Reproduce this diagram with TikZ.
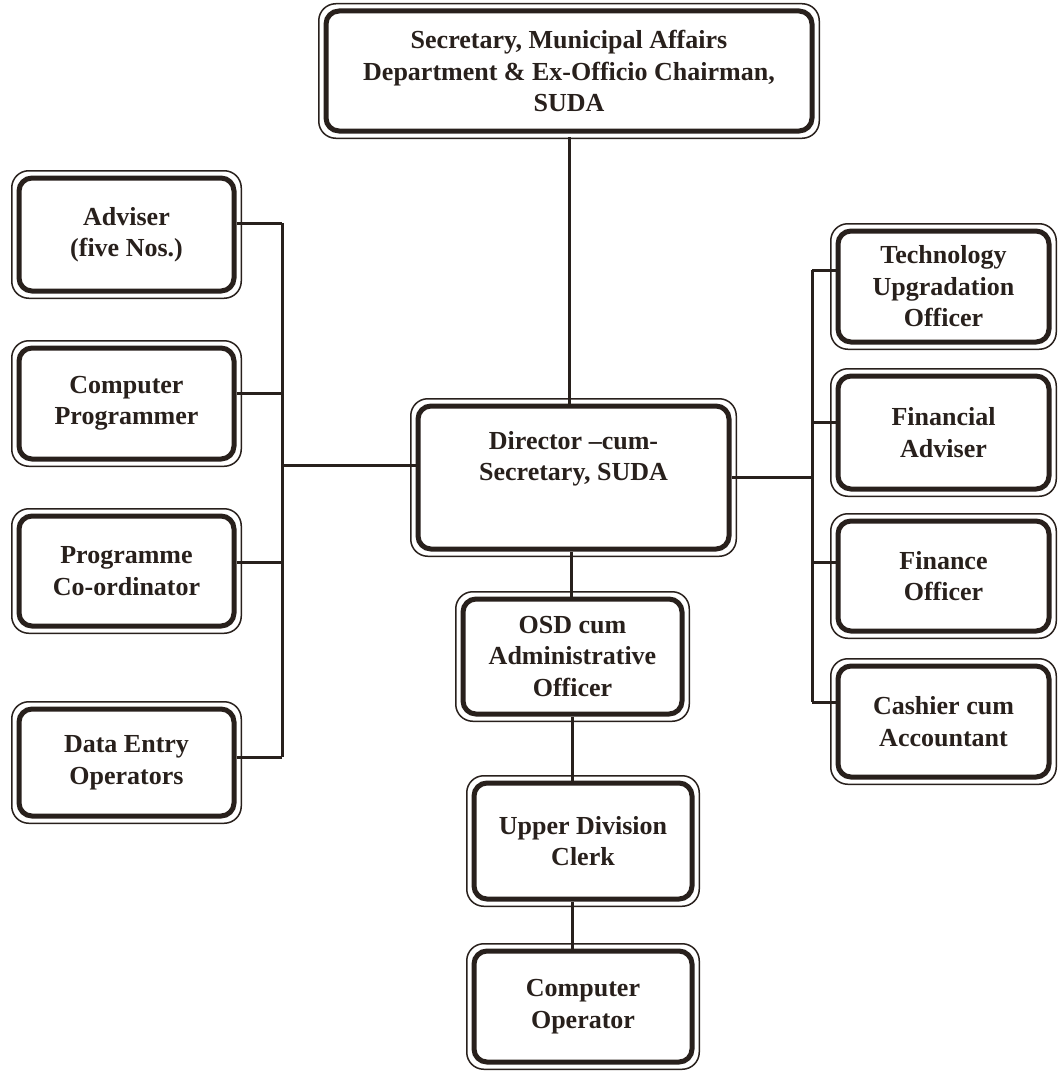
\documentclass[tikz,border=0pt]{standalone}
\usepackage{fontspec}
\setmainfont{Liberation Serif}
\definecolor{ink}{RGB}{40,32,28}
\begin{document}
\begin{tikzpicture}[x=1pt,y=-1pt,
  box/.style={draw=ink, line width=5pt, rounded corners=13pt, align=center,
    font=\bfseries\fontsize{26}{31.5}\selectfont, text=ink, inner sep=0pt},
  conn/.style={draw=ink, line width=3pt}]
\useasboundingbox[fill=white] (0,0) rectangle (1061,1073);
\node[box, minimum width=486pt, minimum height=120pt] (top) at (569,71)
  {Secretary, Municipal Affairs\\Department \& Ex-Officio Chairman,\\SUDA};
\node[box, minimum width=215pt, minimum height=113pt] (adv) at (126.5,234.5) {Adviser\\(five Nos.)};
\node[box, minimum width=215pt, minimum height=111pt] (cp) at (126.5,403.5) {Computer\\Programmer};
\node[box, minimum width=215pt, minimum height=110pt] (pc) at (126.5,571) {Programme\\Co-ordinator};
\node[box, minimum width=215pt, minimum height=107pt] (de) at (126.5,762.5) {Data Entry\\Operators};
\node[box, minimum width=311pt, minimum height=143pt] (dir) at (573.5,477.5)
  {Director –cum-\\Secretary, SUDA\\[12pt]\mbox{}};
\node[box, minimum width=211pt, minimum height=111pt] (tech) at (943.5,286.5) {Technology\\Upgradation\\Officer};
\node[box, minimum width=211pt, minimum height=113pt] (fa) at (943.5,432.5) {Financial\\Adviser};
\node[box, minimum width=211pt, minimum height=110pt] (fo) at (943.5,576) {Finance\\Officer};
\node[box, minimum width=211pt, minimum height=111pt] (cash) at (943.5,721.5) {Cashier cum\\Accountant};
\node[box, minimum width=219pt, minimum height=115pt] (osd) at (572.5,656.5) {OSD cum\\Administrative\\Officer};
\node[box, minimum width=218pt, minimum height=116pt] (udc) at (583,841) {Upper Division\\Clerk};
\node[box, minimum width=218pt, minimum height=111pt] (co) at (583,1006.5) {Computer\\Operator};
\foreach \n in {top,adv,cp,pc,de,dir,tech,fa,fo,cash,osd,udc,co}
  \draw[ink, line width=1.5pt, rounded corners=17pt]
    ([shift={(-4.75pt,-4.75pt)}]\n.south west) rectangle ([shift={(4.75pt,4.75pt)}]\n.north east);
% connectors
\coordinate (lb1) at (282,223);
\coordinate (lb2) at (282,757);
\coordinate (rb1) at (812,270);
\coordinate (rb2) at (812,702);
\draw[conn] (top.south |- 0,137) -- (top.south |- dir.north);
\draw[conn] (lb1) -- (lb2);
\draw[conn] (adv.east |- lb1) -- (lb1);
\draw[conn] (cp.east |- 0,393) -- (lb1 |- 0,393);
\draw[conn] (pc.east |- 0,562) -- (lb1 |- 0,562);
\draw[conn] (de.east |- lb2) -- (lb2);
\draw[conn] (lb1 |- 0,465) -- (dir.west |- 0,465);
\draw[conn] (rb1) -- (rb2);
\draw[conn] (rb1) -- (tech.west |- rb1);
\draw[conn] (rb1 |- 0,422) -- (fa.west |- 0,422);
\draw[conn] (rb1 |- 0,562) -- (fo.west |- 0,562);
\draw[conn] (rb2) -- (cash.west |- rb2);
\draw[conn] (dir.east |- 0,477) -- (rb1 |- 0,477);
\draw[conn] (dir.south -| 571,0) -- (osd.north -| 571,0);
\draw[conn] (osd.south -| 572,0) -- (udc.north -| 572,0);
\draw[conn] (udc.south -| 572,0) -- (co.north -| 572,0);
\end{tikzpicture}
\end{document}
